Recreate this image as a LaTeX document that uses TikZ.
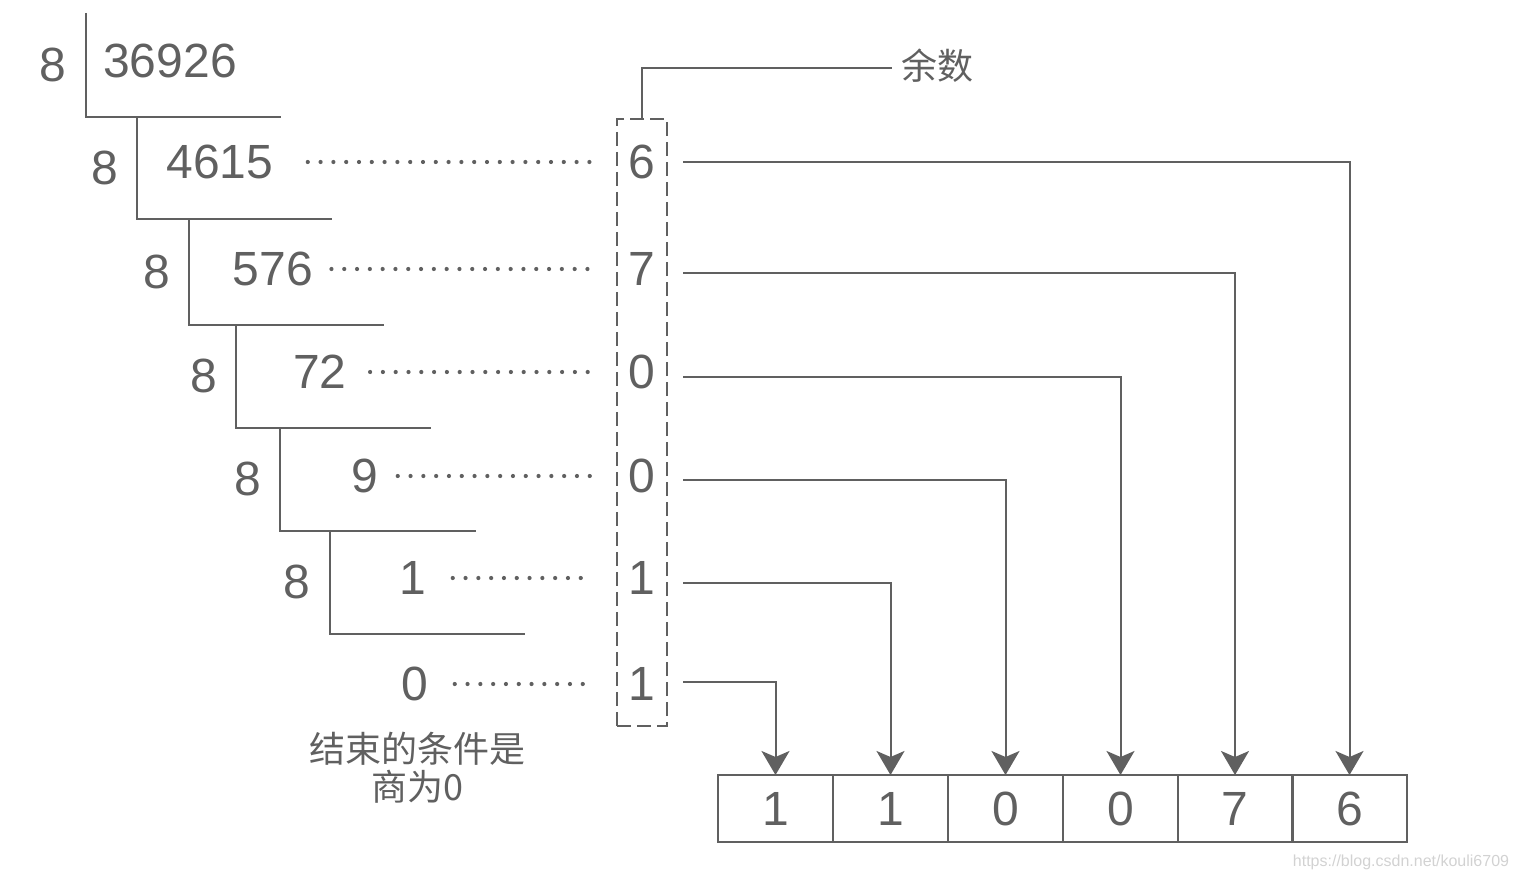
\documentclass[tikz,border=0pt]{standalone}
\usepackage{fontspec}
\setmainfont{Liberation Sans}
\newfontfamily\cjk{Noto Sans CJK SC}
\usetikzlibrary{arrows.meta}
\definecolor{ink}{HTML}{606060}
\definecolor{wm}{HTML}{D2D2D2}
\begin{document}
\begin{tikzpicture}[x=0.5pt,y=-0.5pt,
  line/.style={draw=ink, line width=1pt},
  num/.style={text=ink, font=\fontsize{24}{29}\selectfont, inner sep=0pt},
  rem/.style={num, minimum width=25pt},
  cjklab/.style={text=ink, font=\cjk\fontsize{18}{20}\selectfont, inner sep=0pt, align=center},
  dots/.style={draw=ink, line width=2.1pt, line cap=round, dash pattern=on 0pt off 6.4pt},
  cell/.style={draw=ink, line width=1pt, minimum width=57.5pt, minimum height=33.5pt, inner sep=0pt, outer sep=0pt, text=ink, font=\fontsize{24}{28}\selectfont},
  arr/.style={draw=ink, line width=1pt, -{Stealth[length=12pt,width=14pt,inset=3pt]}}
]
\useasboundingbox (0,0) rectangle (1518,882);

% division brackets
\draw[line] (86,13) -- (86,117) -- (281,117);
\draw[line] (137,117) -- (137,219) -- (332,219);
\draw[line] (189,219) -- (189,325) -- (384,325);
\draw[line] (236,325) -- (236,428) -- (431,428);
\draw[line] (280,428) -- (280,531) -- (476,531);
\draw[line] (330,531) -- (330,634) -- (525,634);

% divisors
\node[num] (d0) at (53,65) {8};
\node[num] (d1) at (105,168) {8};
\node[num] (d2) at (157,272) {8};
\node[num] (d3) at (204,376) {8};
\node[num] (d4) at (248,479) {8};
\node[num] (d5) at (297,582) {8};

% dividends / quotients
\node[num] (q0) at (170,61) {36926};
\node[num] (q1) at (220,162) {4615};
\node[num] (q2) at (273,269) {576};
\node[num] (q3) at (320,372) {72};
\node[num] (q4) at (365,476) {9};
\node[num] (q5) at (413,578) {1};
\node[num] (q6) at (415,684) {0};

% remainders
\node[draw=ink, line width=1pt, dash pattern=on 7pt off 3pt, minimum width=25pt, minimum height=303.5pt, inner sep=0pt] (rbox) at (642,422.5) {};
\node[rem] (r1) at (642,162) {6};
\node[rem] (r2) at (642,269) {7};
\node[rem] (r3) at (642,372) {0};
\node[rem] (r4) at (642,476) {0};
\node[rem] (r5) at (642,578) {1};
\node[rem] (r6) at (642,684) {1};

% dotted links
\draw[dots] ([xshift=17pt]q1.east) -- ([xshift=-11pt]r1.west);
\draw[dots] ([xshift=9pt]q2.east) -- ([xshift=-13pt]r2.west);
\draw[dots] ([xshift=11.5pt]q3.east) -- ([xshift=-13pt]r3.west);
\draw[dots] ([xshift=9.5pt]q4.east) -- ([xshift=-13pt]r4.west);
\draw[dots] ([xshift=13pt]q5.east) -- ([xshift=-12pt]r5.west);
\draw[dots] ([xshift=13pt]q6.east) -- ([xshift=-11pt]r6.west);

% label remainder
\node[cjklab] (yu) at (937,66) {余数};
\draw[line] (rbox.north) |- ([xshift=-4.5pt,yshift=-1pt]yu.west);

% end condition
\node[cjklab] (cond) at (417,768) {结束的条件是\\[-1pt]商为0};

% result array
\node[cell] (c1) at (775.5,808.5) {1};
\node[cell] (c2) at (890.5,808.5) {1};
\node[cell] (c3) at (1005.5,808.5) {0};
\node[cell] (c4) at (1120.5,808.5) {0};
\node[cell] (c5) at (1235,808.5) {7};
\node[cell] (c6) at (1349.5,808.5) {6};

% arrows
\draw[arr] ([xshift=8pt]r1.east) -| (c6.north);
\draw[arr] ([xshift=8pt,yshift=-2pt]r2.east) -| (c5.north);
\draw[arr] ([xshift=8pt,yshift=-2.5pt]r3.east) -| (c4.north);
\draw[arr] ([xshift=8pt,yshift=-2pt]r4.east) -| (c3.north);
\draw[arr] ([xshift=8pt,yshift=-2.5pt]r5.east) -| (c2.north);
\draw[arr] ([xshift=8pt,yshift=1pt]r6.east) -| (c1.north);

% watermark
\node[text=wm, font=\fontsize{8}{9}\selectfont, inner sep=0pt] (wmk) at (1401,862) {https://blog.csdn.net/kouli6709};
\end{tikzpicture}
\end{document}
